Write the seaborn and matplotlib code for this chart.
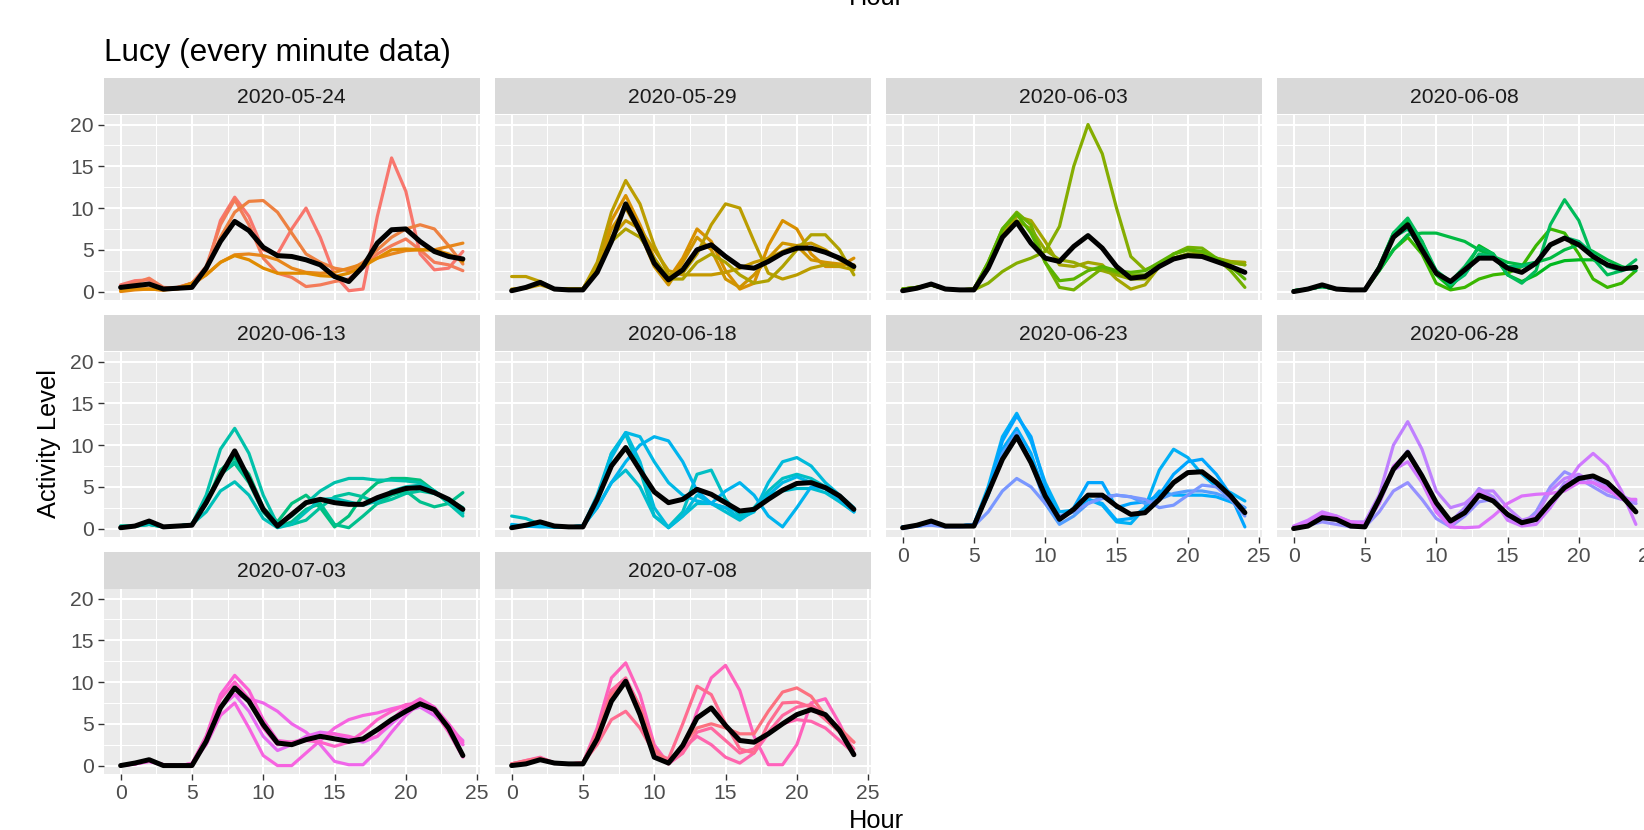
import numpy as np
import pandas as pd
import matplotlib
matplotlib.use("Agg")
import matplotlib.pyplot as plt
import seaborn as sns

# ---------------- data ----------------
hours = list(range(25))
panel_dates = ["2020-05-24", "2020-05-29", "2020-06-03", "2020-06-08", "2020-06-13",
               "2020-06-18", "2020-06-23", "2020-06-28", "2020-07-03", "2020-07-08"]
n_days = 50  # daily colour levels (2020-05-24 .. 2020-07-12)

lines_0524 = [
    [0.8,1.3,1.4,0.4,0.5,1.0,2.5,8.5,11.3,9.0,5.0,4.5,7.5,10.0,6.5,2.0,0.1,0.3,9.0,16.0,12.0,4.5,2.6,2.8,4.8],
    [0.5,1.0,1.6,0.5,0.4,1.0,3.0,8.0,11.0,8.0,4.0,2.2,1.7,0.6,0.8,1.2,1.5,3.0,4.5,5.5,6.3,5.0,3.5,3.2,2.5],
    [0.2,0.3,0.3,0.2,0.5,1.0,2.5,6.5,9.5,10.8,10.9,9.5,7.0,4.5,3.5,2.8,2.5,3.5,5.0,6.5,7.5,8.0,7.5,5.5,3.3],
    [0.0,0.2,0.3,0.2,0.3,0.8,2.0,3.5,4.4,4.5,4.3,3.8,2.8,2.3,2.2,2.3,2.8,3.3,4.0,4.5,4.9,5.0,5.0,5.4,5.8],
    [0.1,0.3,0.3,0.2,0.4,1.0,2.0,3.5,4.3,3.8,2.8,2.2,2.2,2.2,1.9,1.8,2.2,3.0,4.0,5.0,5.1,5.0,5.0,4.5,3.6],
]
mean_0524 = [0.5,0.7,0.9,0.3,0.4,0.5,2.8,6.0,8.4,7.3,5.3,4.3,4.2,3.8,3.2,1.8,1.2,3.0,5.8,7.4,7.5,6.0,4.8,4.2,3.9]

lines_0529 = [
    [0.2,0.5,1.0,0.3,0.3,0.3,3.0,8.5,11.5,8.0,4.0,1.5,4.0,7.5,6.0,2.5,0.3,1.0,5.5,8.5,7.5,4.5,3.0,3.0,4.0],
    [0.2,0.5,1.0,0.3,0.3,0.3,3.0,7.5,10.0,7.0,3.0,0.8,3.5,6.5,5.0,1.5,0.5,2.0,4.0,5.8,5.5,3.8,3.5,3.3,3.2],
    [0.3,0.4,0.8,0.3,0.3,0.3,3.0,6.5,8.5,7.5,5.0,2.5,2.0,2.0,2.0,2.3,2.8,3.5,4.0,4.8,5.5,5.8,5.0,3.8,2.8],
    [1.8,1.8,1.2,0.3,0.3,0.3,3.5,9.5,13.3,10.5,5.5,2.0,2.2,4.5,8.0,10.5,10.0,6.0,2.2,1.5,2.0,2.8,3.2,3.0,2.6],
    [0.2,0.5,1.0,0.3,0.3,0.3,2.5,6.0,7.5,6.5,4.0,1.5,1.5,3.5,4.5,3.5,2.0,1.0,1.3,3.0,5.0,6.8,6.8,5.0,2.0],
]
mean_0529 = [0.1,0.5,1.1,0.3,0.2,0.2,2.3,6.0,10.5,7.2,3.4,1.4,2.6,5.0,5.6,4.2,3.0,2.8,3.6,4.6,5.2,5.2,4.7,4.0,3.0]

lines_0603 = [
    [0.3,0.5,0.8,0.3,0.2,0.3,3.0,7.0,9.0,8.5,6.0,3.2,3.0,3.5,3.2,1.5,0.3,0.8,3.0,4.5,5.0,4.5,4.0,3.6,3.5],
    [0.3,0.5,0.8,0.3,0.2,0.3,3.0,6.5,8.5,7.5,5.0,3.8,3.5,2.8,2.5,2.0,1.5,1.5,3.0,4.0,4.5,4.2,3.8,3.5,3.2],
    [0.3,0.5,0.8,0.3,0.2,0.2,1.0,2.4,3.4,4.0,4.8,7.8,15.0,20.0,16.5,10.0,4.2,2.6,3.3,4.0,4.5,4.5,4.0,3.5,3.2],
    [0.3,0.5,0.8,0.3,0.2,0.3,3.5,7.5,9.5,8.0,3.5,0.5,0.2,1.5,2.8,2.3,2.0,2.0,3.0,4.5,5.3,5.2,4.0,2.5,0.5],
    [0.3,0.5,0.8,0.3,0.2,0.3,3.5,7.5,9.3,7.0,3.5,1.3,1.5,2.5,3.0,2.5,2.3,2.5,3.5,4.5,5.0,4.8,4.0,3.0,1.5],
]
mean_0603 = [0.1,0.4,0.9,0.3,0.2,0.2,2.8,6.5,8.3,5.8,4.0,3.6,5.4,6.7,5.2,3.0,1.6,1.8,3.0,3.9,4.3,4.2,3.6,3.0,2.3]

lines_0608 = [
    [0.1,0.3,0.6,0.3,0.2,0.2,2.5,5.0,6.5,4.5,1.0,0.2,0.5,1.5,2.0,2.2,3.0,5.5,7.5,7.0,4.5,1.5,0.5,1.0,2.5],
    [0.1,0.3,0.6,0.3,0.2,0.2,3.0,7.0,8.5,6.0,2.0,0.5,2.5,5.5,4.5,2.0,1.2,2.0,3.2,3.7,3.8,3.8,3.2,2.8,2.8],
    [0.1,0.3,0.6,0.3,0.2,0.2,2.5,5.0,6.8,7.0,7.0,6.5,6.0,5.0,4.2,3.5,3.2,3.5,4.0,5.0,5.6,4.8,3.8,3.0,2.5],
    [0.1,0.3,0.6,0.3,0.2,0.2,3.0,7.0,8.8,6.0,2.5,1.2,3.0,5.3,4.5,2.0,1.0,2.5,8.0,11.0,8.5,4.0,2.0,2.5,3.8],
    [0.1,0.3,0.6,0.3,0.2,0.2,2.8,6.5,7.5,5.0,2.5,0.8,2.0,4.5,4.2,3.0,3.0,3.5,5.5,6.5,6.0,4.5,3.0,2.5,3.0],
]
mean_0608 = [0.0,0.3,0.8,0.3,0.2,0.2,2.8,6.5,8.0,5.0,2.2,1.2,2.6,4.0,4.0,2.8,2.3,3.4,5.6,6.4,5.6,4.2,3.2,2.7,2.9]

lines_0613 = [
    [0.3,0.3,0.6,0.2,0.3,0.5,3.0,7.0,8.5,6.5,2.5,0.8,3.0,4.0,2.5,0.2,1.5,4.0,5.5,6.0,6.0,5.8,4.5,3.0,2.0],
    [0.2,0.3,0.5,0.2,0.3,0.5,3.0,6.5,7.8,5.5,2.0,0.2,0.8,2.3,3.0,0.5,0.1,1.5,3.0,4.0,4.5,3.2,2.6,3.0,4.3],
    [0.2,0.3,0.5,0.2,0.3,0.5,3.0,6.5,8.0,6.0,2.0,0.3,0.5,1.0,2.5,3.8,4.2,3.8,3.0,3.5,4.2,4.5,4.2,3.5,2.5],
    [0.3,0.3,0.6,0.2,0.3,0.5,4.0,9.5,12.0,9.0,4.0,0.5,1.5,3.0,4.5,5.5,6.0,6.0,5.8,5.8,5.7,5.5,4.5,3.0,1.5],
    [0.2,0.3,0.5,0.2,0.3,0.5,2.0,4.5,5.6,4.0,1.2,0.1,0.5,2.0,3.5,3.6,3.2,2.8,3.3,4.5,5.0,5.2,4.5,3.3,1.8],
]
mean_0613 = [0.1,0.3,0.9,0.2,0.3,0.4,3.1,6.3,9.3,5.9,2.3,0.3,1.7,3.1,3.5,3.1,2.9,2.9,3.7,4.3,4.8,4.9,4.3,3.5,2.3]

lines_0618 = [
    [1.5,1.2,0.5,0.2,0.2,0.3,3.5,9.0,11.3,7.0,1.5,0.2,2.0,6.5,7.0,3.5,1.5,2.5,4.5,6.0,6.5,6.0,5.0,3.5,2.2],
    [0.3,0.3,0.3,0.2,0.2,0.3,2.5,5.5,7.0,5.0,1.5,0.1,1.5,3.0,3.0,2.0,1.0,2.2,4.0,4.5,4.8,4.8,4.3,3.2,2.0],
    [0.3,0.3,0.3,0.2,0.2,0.3,4.0,9.0,11.5,8.0,2.5,0.1,1.5,4.0,3.0,2.5,1.2,2.0,5.5,8.0,8.5,7.5,5.5,4.0,2.5],
    [0.3,0.3,0.3,0.2,0.2,0.3,3.5,8.5,11.5,11.0,8.0,5.5,4.0,3.3,3.0,2.5,2.0,2.2,4.0,5.5,6.2,5.5,4.8,3.5,2.0],
    [0.5,0.3,0.2,0.2,0.2,0.3,2.5,5.5,8.0,10.0,11.0,10.5,8.0,4.5,3.0,4.5,5.5,4.0,1.5,0.2,2.5,5.0,4.8,3.5,2.0],
]
mean_0618 = [0.1,0.4,0.8,0.3,0.2,0.2,3.5,7.5,9.7,7.0,4.4,3.1,3.5,4.7,4.1,3.1,2.1,2.3,3.5,4.6,5.4,5.5,4.9,3.9,2.3]

lines_0623 = [
    [0.2,0.3,0.5,0.3,0.3,0.5,5.0,11.0,13.8,10.5,5.5,2.0,2.2,3.5,2.8,0.8,0.6,2.5,7.0,9.5,8.5,6.5,5.0,4.3,3.3],
    [0.2,0.3,0.5,0.3,0.3,0.5,4.0,9.5,12.0,9.0,4.0,1.5,2.0,3.5,3.0,1.0,1.2,2.5,4.5,4.0,4.0,4.0,3.8,3.2,2.5],
    [0.2,0.3,0.5,0.3,0.3,0.5,4.5,10.5,13.5,11.0,5.0,1.0,2.5,5.5,5.5,2.5,3.0,3.2,4.0,6.5,8.0,8.3,6.5,4.0,0.2],
    [0.2,0.3,0.5,0.3,0.3,0.5,4.0,9.0,11.5,8.0,3.0,0.5,1.5,3.0,3.8,4.0,3.8,3.0,3.5,4.2,4.5,4.5,4.2,3.5,2.5],
    [0.0,0.3,0.4,0.2,0.2,0.3,2.0,4.5,6.0,5.0,3.0,1.5,2.0,3.0,3.6,4.0,3.8,3.5,2.5,2.8,4.0,5.2,5.0,3.5,1.5],
]
mean_0623 = [0.1,0.4,0.9,0.3,0.3,0.3,4.3,8.3,11.0,7.9,3.9,1.1,2.3,4.0,4.0,2.7,1.7,1.9,3.5,5.5,6.7,6.8,5.5,3.9,1.9]

lines_0628 = [
    [0.1,0.4,0.8,0.5,0.2,0.2,2.0,4.5,5.5,3.5,1.2,0.2,1.5,3.2,3.5,1.5,0.4,2.0,5.0,6.8,6.0,5.0,4.0,3.5,3.0],
    [0.1,0.5,1.2,1.0,0.4,0.4,3.0,7.0,9.3,6.5,2.5,0.8,2.5,4.8,3.8,1.5,0.5,1.0,3.0,5.5,6.0,6.0,5.0,4.0,3.0],
    [0.2,0.8,1.8,1.5,0.8,0.8,4.0,10.0,12.8,9.5,4.5,2.5,3.0,4.5,4.5,2.5,1.0,1.5,4.5,6.0,6.5,5.5,4.5,3.8,3.3],
    [0.3,1.0,2.0,1.5,0.8,0.5,3.5,7.0,8.0,5.5,2.0,0.3,2.0,4.5,3.5,1.0,0.3,0.5,2.5,5.0,7.5,9.0,7.5,4.5,0.5],
    [0.2,0.6,1.6,1.3,0.8,0.6,3.0,7.5,9.0,6.0,2.0,0.2,0.1,0.2,1.5,3.0,3.9,4.1,4.2,4.5,5.5,5.5,4.8,3.5,3.5],
]
mean_0628 = [0.0,0.3,1.3,1.1,0.3,0.2,3.5,7.1,9.1,6.3,3.1,0.9,1.9,4.0,3.3,1.7,0.7,1.1,3.1,4.9,6.0,6.3,5.5,3.9,2.0]

lines_0703 = [
    [0.0,0.2,0.5,0.1,0.0,0.2,3.0,7.0,8.5,6.5,3.5,1.8,2.5,3.5,4.0,3.8,3.2,2.8,3.5,5.0,6.5,7.0,6.0,4.5,3.0],
    [0.0,0.2,0.5,0.1,0.0,0.2,3.0,7.0,8.5,8.0,7.5,6.5,5.0,4.0,2.5,0.5,0.1,0.1,1.8,4.0,6.0,7.5,6.5,4.5,2.5],
    [0.0,0.2,0.5,0.1,0.0,0.2,2.5,6.0,7.5,4.5,1.2,0.0,0.0,1.5,3.0,4.5,5.5,6.0,6.3,6.8,7.2,7.5,6.5,4.5,2.5],
    [0.0,0.2,0.6,0.1,0.0,0.2,3.5,8.5,10.8,9.0,5.5,3.0,2.8,3.2,3.5,3.8,3.5,3.0,3.5,5.5,7.0,8.0,7.0,5.0,2.8],
    [0.0,0.2,0.6,0.1,0.0,0.2,3.5,8.0,10.0,8.0,4.5,2.5,2.8,3.0,2.8,2.3,2.8,4.0,5.5,6.5,7.3,7.5,6.5,4.0,1.0],
]
mean_0703 = [0.0,0.3,0.7,0.0,0.0,0.0,2.9,6.9,9.3,7.7,4.9,2.7,2.5,3.1,3.5,3.2,2.9,3.2,4.3,5.5,6.5,7.4,6.7,4.5,1.2]

lines_0708 = [
    [0.2,0.6,1.0,0.3,0.2,0.3,4.5,10.5,12.3,8.5,2.5,0.2,1.5,6.5,10.5,12.0,9.0,3.5,0.1,0.1,2.5,7.5,8.0,5.0,1.5],
    [0.2,0.5,0.9,0.3,0.2,0.3,4.0,9.0,10.3,7.0,2.0,0.3,2.0,3.5,2.5,1.0,0.3,1.5,3.8,5.0,5.5,5.3,4.5,3.0,1.5],
    [0.2,0.5,0.9,0.3,0.2,0.3,4.0,9.0,10.5,7.0,2.0,0.3,1.5,4.0,4.5,3.0,1.5,2.0,4.0,6.0,7.0,7.3,6.0,4.0,2.0],
    [0.2,0.6,0.9,0.3,0.2,0.3,2.5,5.5,6.5,4.5,1.5,0.8,5.0,9.5,8.5,5.0,2.0,1.5,5.0,7.5,7.6,7.0,5.5,4.0,2.8],
    [0.2,0.5,0.9,0.3,0.2,0.3,3.8,8.5,10.0,7.0,2.0,0.2,2.5,4.5,5.0,4.5,3.8,3.8,6.5,8.8,9.3,8.3,6.0,4.5,2.8],
]
mean_0708 = [0.0,0.2,0.7,0.3,0.2,0.2,3.2,7.7,10.1,6.1,1.0,0.3,2.4,5.7,6.9,4.8,3.0,2.8,3.8,5.0,6.1,6.7,6.1,4.2,1.3]

panel_lines = [lines_0524, lines_0529, lines_0603, lines_0608, lines_0613,
               lines_0618, lines_0623, lines_0628, lines_0703, lines_0708]
panel_means = [mean_0524, mean_0529, mean_0603, mean_0608, mean_0613,
               mean_0618, mean_0623, mean_0628, mean_0703, mean_0708]

# ---------------- ggplot-like hue palette (HCL, l=65, c=100) ----------------
def hcl_to_hex(h, c=100.0, l=65.0):
    hr = np.deg2rad(h)
    u, v = c * np.cos(hr), c * np.sin(hr)
    Xn, Yn, Zn = 95.047, 100.0, 108.883
    den = Xn + 15 * Yn + 3 * Zn
    un, vn = 4 * Xn / den, 9 * Yn / den
    Y = Yn * ((l + 16) / 116) ** 3
    up, vp = u / (13 * l) + un, v / (13 * l) + vn
    X = Y * 9 * up / (4 * vp)
    Z = Y * (12 - 3 * up - 20 * vp) / (4 * vp)
    M = np.array([[3.2406, -1.5372, -0.4986],
                  [-0.9689, 1.8758, 0.0415],
                  [0.0557, -0.2040, 1.0570]])
    rgb = M @ (np.array([X, Y, Z]) / 100.0)
    rgb = np.where(rgb <= 0.0031308, 12.92 * rgb, 1.055 * np.clip(rgb, 0, None) ** (1 / 2.4) - 0.055)
    rgb = np.clip(rgb, 0, 1)
    return matplotlib.colors.to_hex(rgb)

hues = np.linspace(15, 375, n_days + 1)[:-1]
day_colors = [hcl_to_hex(h) for h in hues]

# ---------------- figure ----------------
sns.set_theme(style="darkgrid", rc={"axes.facecolor": "#EBEBEB", "grid.color": "white"})
plt.rcParams["font.family"] = ["Liberation Sans", "DejaVu Sans"]

W, H = 1644, 830
fig = plt.figure(figsize=(W / 100, H / 100), dpi=100)
fig.patch.set_facecolor("white")

def px_axes(left, top, width, height, **kw):
    return fig.add_axes([left / W, 1 - (top + height) / H, width / W, height / H], **kw)

col_left = [103.5, 494.5, 885.5, 1276.5]
pw = 376.5
strip_top = [78, 315, 552]
sh = 36.5
ph = 185.5

tick_fs = 15.2
for i, date in enumerate(panel_dates):
    r, c = divmod(i, 4)
    x0 = col_left[c]
    st = strip_top[r]
    # strip
    sax = px_axes(x0, st, pw, sh)
    sax.set_facecolor("#D9D9D9")
    sax.set_xticks([]); sax.set_yticks([])
    for s in sax.spines.values():
        s.set_visible(False)
    sax.grid(False)
    sax.text(0.5, 0.46, date, ha="center", va="center", fontsize=tick_fs,
             color="#1A1A1A", transform=sax.transAxes)
    # panel
    ax = px_axes(x0, st + sh, pw, ph)
    ax.set_facecolor("#EBEBEB")
    for j, vals in enumerate(panel_lines[i]):
        sns.lineplot(x=hours, y=vals, color=day_colors[i * 5 + j], lw=2.3, ax=ax,
                     legend=False, zorder=3)
    sns.lineplot(x=hours, y=panel_means[i], color="black", lw=3.6, ax=ax,
                 legend=False, zorder=4)
    ax.set_xlim(-1.2, 25.2)
    ax.set_ylim(-1.01, 21.2)
    ax.set_xticks([0, 5, 10, 15, 20, 25])
    ax.set_xticks([2.5, 7.5, 12.5, 17.5, 22.5], minor=True)
    ax.set_yticks([0, 5, 10, 15, 20])
    ax.set_yticks([2.5, 7.5, 12.5, 17.5], minor=True)
    ax.grid(which="major", color="white", lw=1.5)
    ax.grid(which="minor", color="white", lw=0.75)
    ax.set_axisbelow(True)
    for s in ax.spines.values():
        s.set_visible(False)
    ax.set_xlabel(""); ax.set_ylabel("")
    show_x = (r == 2) or (r == 1 and c >= 2)
    show_y = (c == 0)
    ax.tick_params(axis="x", which="major", bottom=show_x, labelbottom=show_x,
                   length=4.5, width=1.0, color="#333333", labelsize=tick_fs,
                   labelcolor="#4D4D4D", pad=2.5)
    ax.tick_params(axis="y", which="major", left=show_y, labelleft=show_y,
                   length=4.5, width=1.0, color="#333333", labelsize=tick_fs,
                   labelcolor="#4D4D4D", pad=2.5)
    ax.tick_params(which="minor", length=0)

# titles
fig.text(103.5 / W, 1 - 61 / H, "Lucy (every minute data)", ha="left", va="baseline",
         fontsize=22.7, color="black")
fig.text(876 / W, 1 - 828 / H, "Hour", ha="center", va="baseline", fontsize=18.3, color="black")
fig.text(876 / W, 1 - 5 / H, "Hour", ha="center", va="baseline", fontsize=18.3, color="black")
fig.text(49 / W, 1 - 443 / H, "Activity Level", ha="center", va="center", rotation=90,
         fontsize=18.3, color="black")

fig.savefig("out.png", dpi=100)
